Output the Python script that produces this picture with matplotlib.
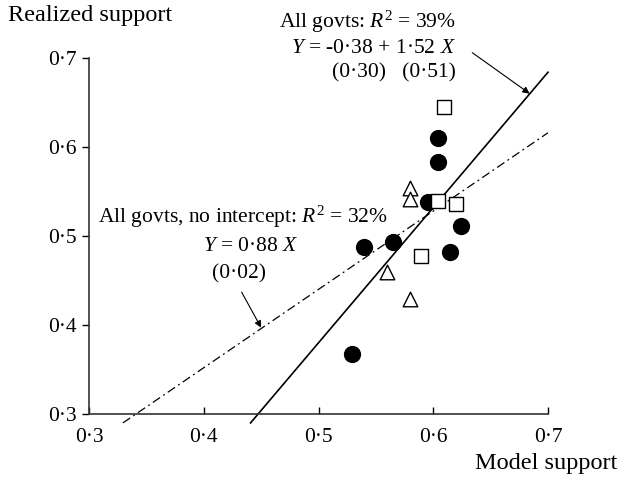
import matplotlib
matplotlib.use('Agg')
import matplotlib.pyplot as plt
from matplotlib.ticker import FuncFormatter
import numpy as np

plt.rc('font', family='Liberation Serif')
plt.rc('mathtext', fontset='custom', rm='Liberation Serif', it='Liberation Serif:italic')

# government groups: model support (x) vs realized support (y)
circ_x = [0.604, 0.604, 0.595, 0.624, 0.615, 0.565, 0.540, 0.529]
circ_y = [0.610, 0.583, 0.538, 0.511, 0.482, 0.493, 0.488, 0.367]
sq_x = [0.609, 0.604, 0.620, 0.589]
sq_y = [0.645, 0.539, 0.536, 0.478]
tri_x = [0.580, 0.580, 0.560, 0.580]
tri_y = [0.554, 0.542, 0.460, 0.429]

# fitted lines
b0, b1 = -0.38, 1.52
b_noint = 0.88
ticks = [0.3, 0.4, 0.5, 0.6, 0.7]

fig = plt.figure(figsize=(6.19, 4.83), dpi=100)
ax = fig.add_axes([89/619, 1-414/483, (548-89)/619, (414-58)/483])

ax.scatter(circ_x, circ_y, s=130, c='black', marker='o', zorder=3)
ax.scatter(sq_x, sq_y, s=95, facecolor='white', edgecolor='black', marker='s', linewidths=1, zorder=3)
ax.scatter(tri_x, tri_y, s=110, facecolor='white', edgecolor='black', marker='^', linewidths=1, zorder=3)

x1 = np.array([(0.29 - b0) / b1, 0.7])
ax.plot(x1, b0 + b1 * x1, color='black', lw=1.2, clip_on=False)
x2 = np.array([0.29 / b_noint, 0.7])
ax.plot(x2, b_noint * x2, color='black', lw=0.9, ls=(0, (7, 3, 1.5, 3)), clip_on=False)

ax.set_xlim(0.3, 0.7)
ax.set_ylim(0.3, 0.7)
ax.set_xticks(ticks)
ax.set_yticks(ticks)
fmt = FuncFormatter(lambda v, p: f'{v:.1f}'.replace('.', '\u00b7'))
ax.xaxis.set_major_formatter(fmt)
ax.yaxis.set_major_formatter(fmt)
ax.tick_params(axis='x', direction='in', length=5, width=1, labelsize=15.5, pad=10)
ax.tick_params(axis='y', direction='out', length=5, width=1, labelsize=15.5, pad=4)
for side in ['top', 'right']:
    ax.spines[side].set_visible(False)
for side in ['left', 'bottom']:
    ax.spines[side].set_linewidth(1.2)
    ax.spines[side].set_color('#333333')

# regression annotations
fs = 15.5
ax.text(0.620, 0.740, r'All govts: $R^2$ = 39%', ha='right', va='center', fontsize=fs, clip_on=False)
ax.text(0.620, 0.711, r'$Y$ = -0·38 + 1·52 $X$', ha='right', va='center', fontsize=fs, clip_on=False)
ax.text(0.620, 0.683, '(0·30)   (0·51)', ha='right', va='center', fontsize=fs, clip_on=False)
ax.annotate('', xy=(0.684, 0.66), xytext=(0.634, 0.706),
            arrowprops=dict(arrowstyle='-|>', color='black', lw=0.8, mutation_scale=10,
                            shrinkA=0, shrinkB=0), annotation_clip=False)

ax.text(0.434, 0.521, r'All govts, no intercept: $R^2$ = 32%', ha='center', va='center', fontsize=fs)
ax.text(0.441, 0.488, r'$Y$ = 0·88 $X$', ha='center', va='center', fontsize=fs)
ax.text(0.431, 0.457, '(0·02)', ha='center', va='center', fontsize=fs)
ax.annotate('', xy=(0.450, 0.397), xytext=(0.433, 0.437),
            arrowprops=dict(arrowstyle='-|>', color='black', lw=0.8, mutation_scale=10,
                            shrinkA=0, shrinkB=0))

fig.text(8/619, 1-15/483, 'Realized support', ha='left', va='center', fontsize=17.5)
fig.text(617/619, 1-463/483, 'Model support', ha='right', va='center', fontsize=17.5)

fig.savefig('out.png', dpi=100)
